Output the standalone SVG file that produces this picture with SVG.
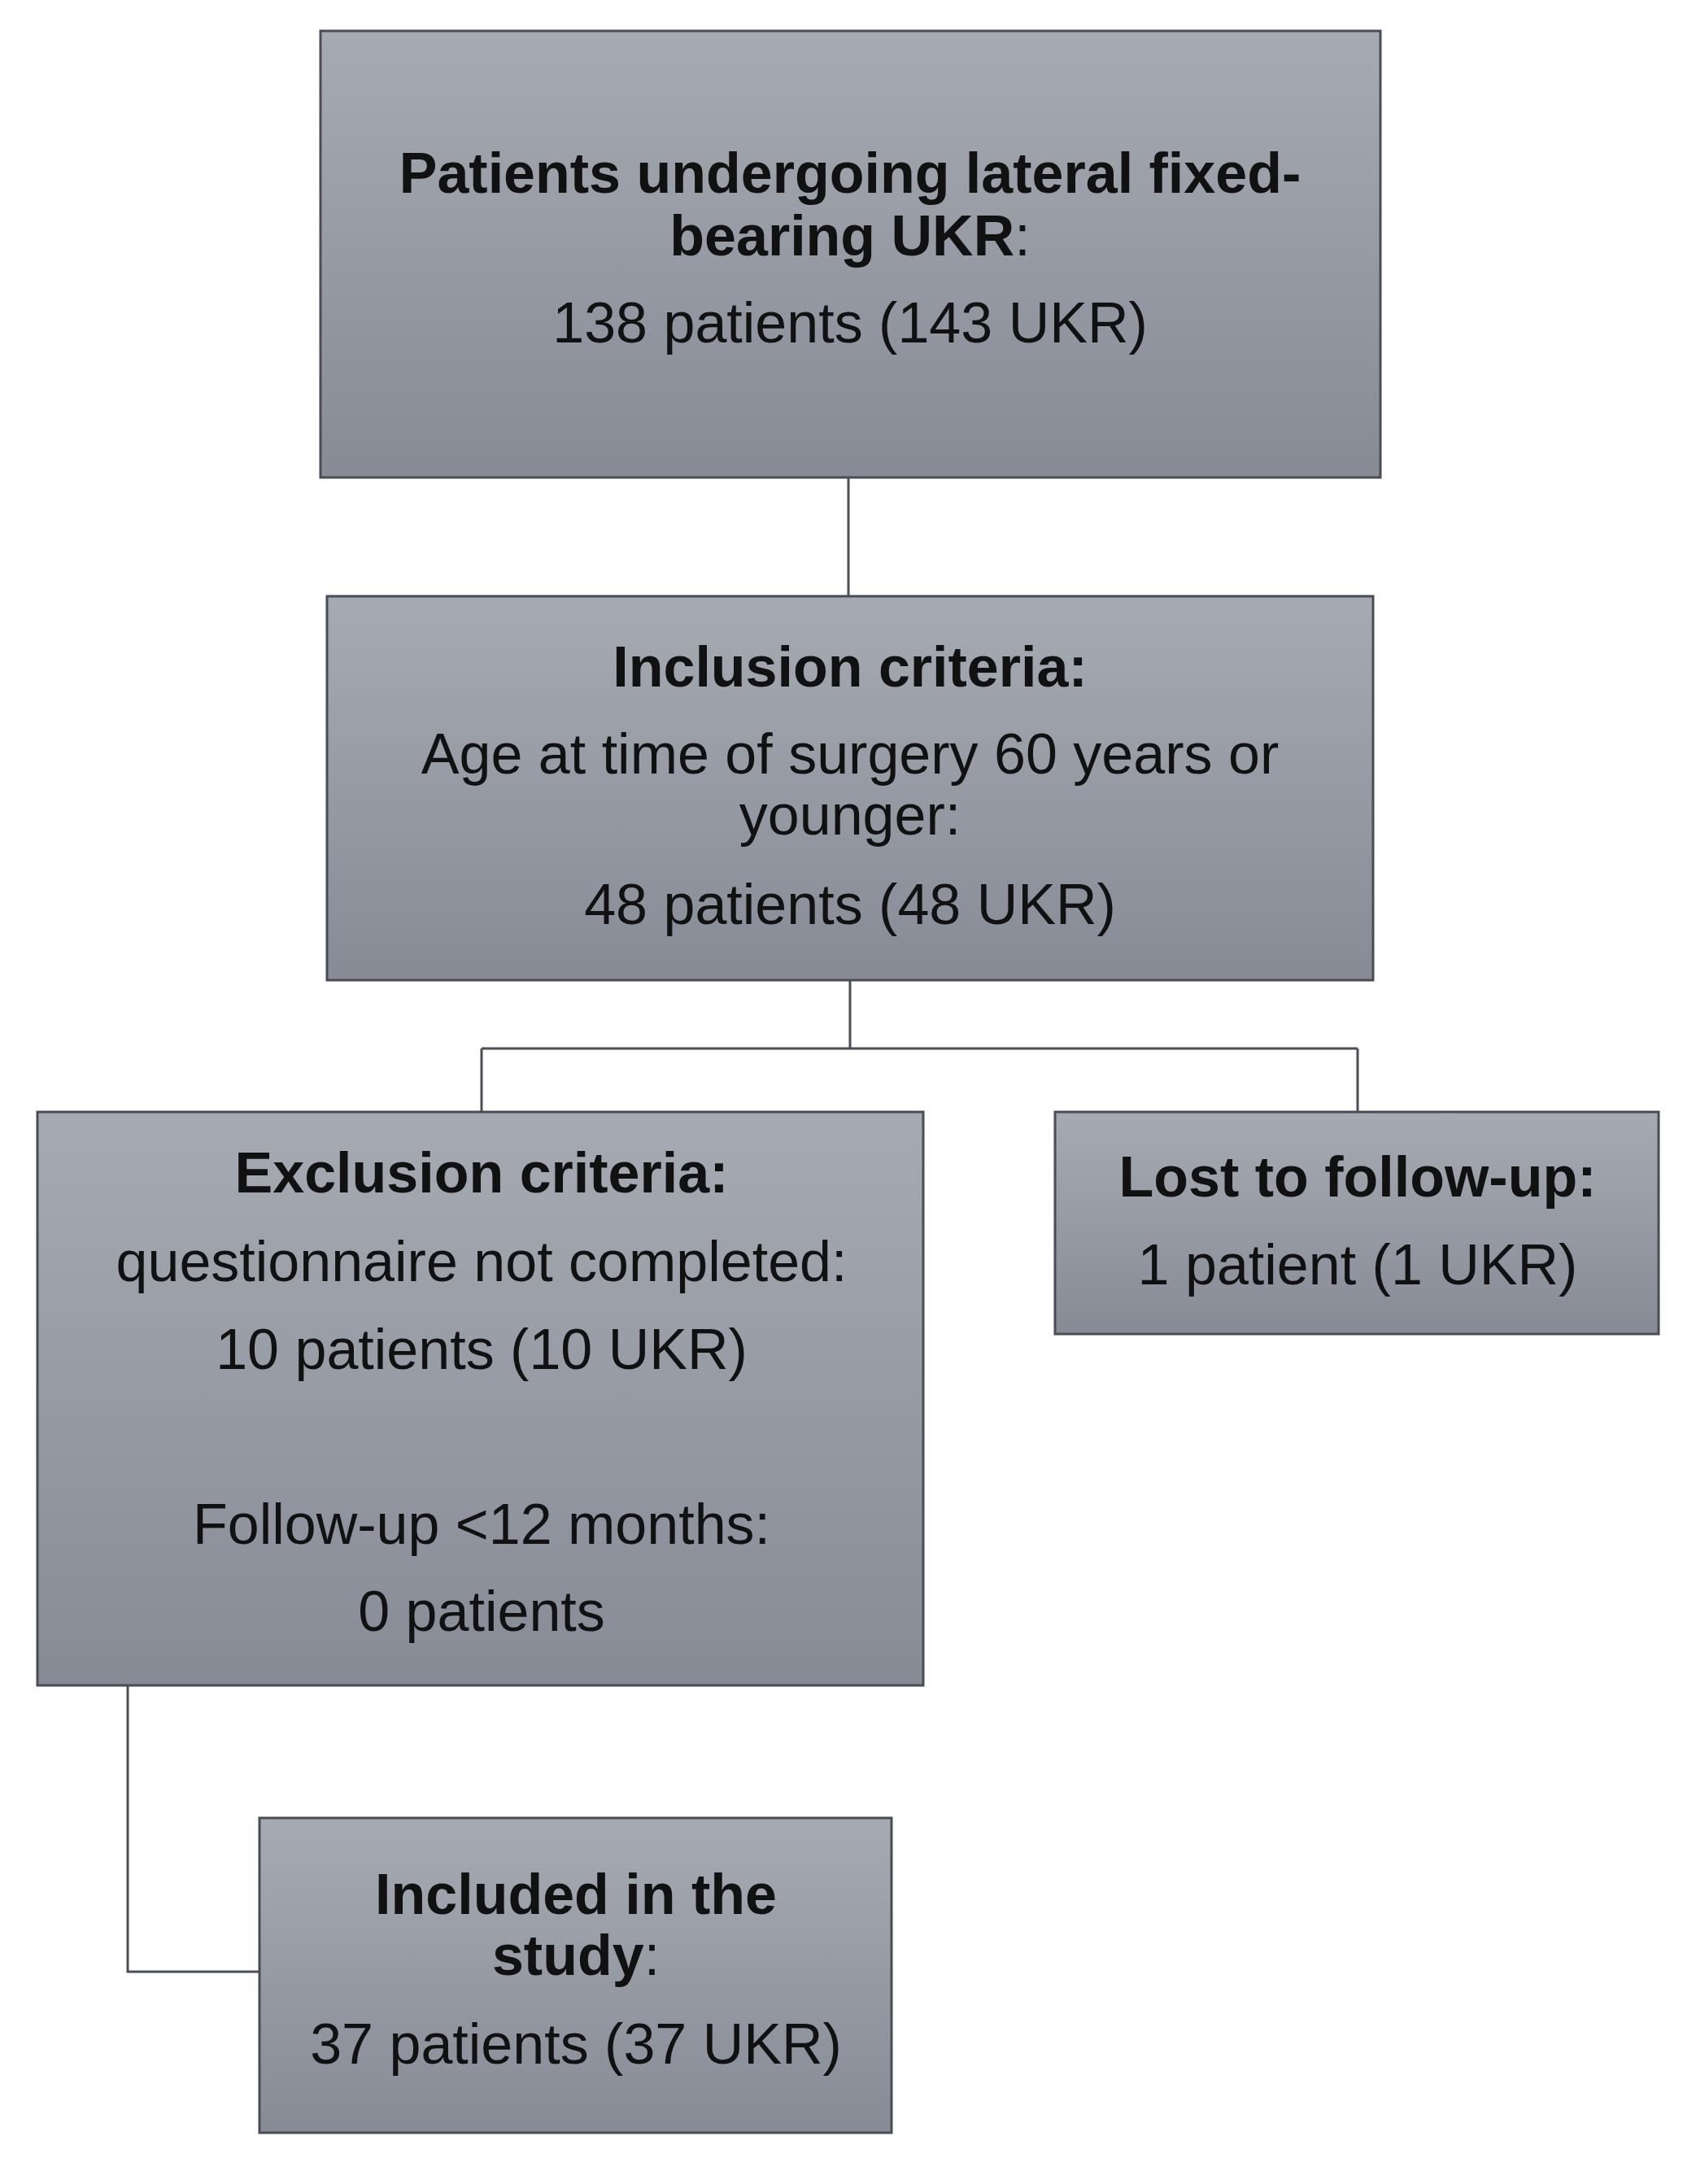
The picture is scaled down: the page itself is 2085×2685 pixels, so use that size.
<svg xmlns="http://www.w3.org/2000/svg" width="2085" height="2685" viewBox="0 0 2085 2685">
<defs><linearGradient id="g" x1="0" y1="0" x2="0" y2="1"><stop offset="0" stop-color="#a5aab3"/><stop offset="1" stop-color="#868b95"/></linearGradient></defs>
<style>
.b{fill:url(#g);stroke:#4a4d55;stroke-width:3}
text{font-family:"Liberation Sans",Arial,sans-serif;font-size:70px;fill:#111;text-anchor:middle}
.h{font-weight:bold}
.n{font-weight:normal}
.c{fill:none;stroke:#4a4f5a;stroke-width:3}
</style>
<rect width="2085" height="2685" fill="#fff"/>
<g id="connectors">
<path class="c" d="M1043 587V733"/>
<path class="c" d="M1045 1205V1289M592 1289H1669M592 1289V1367M1669 1289V1367"/>
<path class="c" d="M157 2072V2424H319"/>
</g>
<g id="n1"><rect class="b" x="394" y="38" width="1303" height="549"/>
<text x="1045" y="237" class="h">Patients undergoing lateral fixed-</text>
<text x="1045" y="314" class="h">bearing UKR<tspan class="n">:</tspan></text>
<text x="1045" y="421">138 patients (143 UKR)</text></g>
<g id="n2"><rect class="b" x="402" y="733" width="1286" height="472"/>
<text x="1045" y="844" class="h">Inclusion criteria:</text>
<text x="1045" y="951">Age at time of surgery 60 years or</text>
<text x="1045" y="1026">younger:</text>
<text x="1045" y="1136">48 patients (48 UKR)</text></g>
<g id="n3"><rect class="b" x="46" y="1367" width="1089" height="705"/>
<text x="592" y="1466" class="h">Exclusion criteria:</text>
<text x="592" y="1575">questionnaire not completed:</text>
<text x="592" y="1683">10 patients (10 UKR)</text>
<text x="592" y="1898">Follow-up &lt;12 months:</text>
<text x="592" y="2005">0 patients</text></g>
<g id="n4"><rect class="b" x="1297" y="1367" width="742" height="273"/>
<text x="1669" y="1471" class="h">Lost to follow-up:</text>
<text x="1669" y="1579">1 patient (1 UKR)</text></g>
<g id="n5"><rect class="b" x="319" y="2235" width="777" height="387"/>
<text x="708" y="2353" class="h">Included in the</text>
<text x="708" y="2428" class="h">study<tspan class="n">:</tspan></text>
<text x="708" y="2537">37 patients (37 UKR)</text></g>
</svg>
